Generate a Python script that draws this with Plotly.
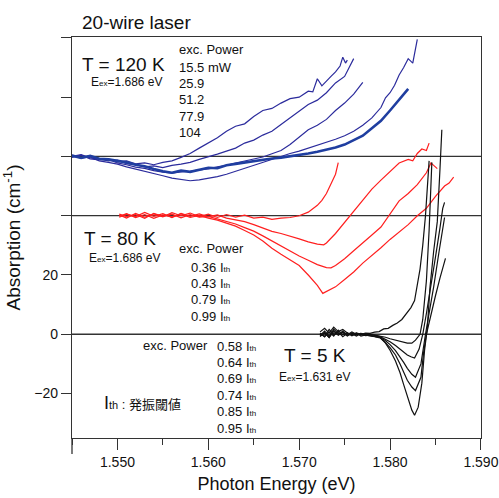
import plotly.graph_objects as go

# ---------------- data (values relative to each panel's baseline) ----------------
OFF_120K = 60
OFF_80K = 40
OFF_5K = 0

# T = 120 K (blue), five excitation powers
b1_x = [1.545,1.546,1.547,1.548,1.549,1.550,1.551,1.552,1.553,1.554,1.555,1.556,1.557,1.558,1.559,1.560,1.561,1.562,1.563,1.564,
        1.565,1.566,1.567,1.568,1.569,1.570,1.571,1.5715,1.572,1.5725,1.573,1.5735,1.574,1.5745,1.5748,1.5751,1.5753]
b1_y = [0.5,-0.5,0.3,-1.0,-0.8,-1.8,-1.5,-2.5,-2.2,-2.8,-2.0,-1.5,-0.3,1.0,2.8,4.5,6.3,8.5,10.2,11.0,
        13.5,15.5,16.2,18.0,19.5,20.0,22.0,21.8,26.2,23.8,25.5,27.0,28.5,30.5,33.5,31.5,32.5]

b2_x = [1.545,1.546,1.547,1.548,1.549,1.550,1.551,1.552,1.553,1.554,1.555,1.556,1.557,1.558,1.559,1.560,1.561,1.562,1.563,1.564,
        1.565,1.566,1.567,1.568,1.569,1.570,1.571,1.572,1.573,1.574,1.575,1.5755,1.576]
b2_y = [0.0,0.6,-0.5,-0.8,-1.5,-1.2,-2.4,-2.8,-3.5,-3.2,-3.8,-3.0,-2.6,-2.0,-1.0,-0.2,0.8,1.8,2.8,4.5,
        5.5,7.2,8.5,10.8,13.0,15.2,17.5,19.0,21.5,24.8,27.0,30.0,33.0]

b3_x = [1.545,1.546,1.547,1.548,1.549,1.550,1.551,1.552,1.553,1.554,1.555,1.556,1.557,1.558,1.559,1.560,1.561,1.562,1.563,1.564,
        1.565,1.566,1.567,1.568,1.569,1.570,1.571,1.572,1.573,1.574,1.575,1.576,1.577]
b3_y = [-0.3,0.4,-0.8,-1.2,-1.0,-2.2,-2.8,-3.6,-4.0,-4.8,-5.3,-5.6,-5.2,-5.0,-4.5,-4.2,-3.5,-3.0,-2.2,-1.6,
        -0.8,-0.2,0.9,2.0,4.0,6.5,9.0,10.5,12.5,15.5,18.0,21.0,25.0]

b4_x = [1.545,1.546,1.547,1.548,1.549,1.550,1.551,1.552,1.553,1.554,1.555,1.556,1.557,1.558,1.559,1.560,1.561,1.562,1.563,1.564,
        1.565,1.566,1.567,1.568,1.569,1.570,1.571,1.572,1.573,1.574,1.575,1.576,1.577,1.578,1.579,
        1.5795,1.580,1.5805,1.581,1.5815,1.582,1.5825,1.583]
b4_y = [0.2,-0.6,-0.2,-1.5,-2.0,-2.6,-3.5,-4.2,-5.0,-5.8,-6.5,-7.3,-7.8,-8.2,-7.9,-7.4,-6.8,-6.0,-5.0,-4.0,
        -3.0,-2.0,-0.8,0.2,1.0,1.8,2.8,3.6,4.6,5.8,7.0,8.5,10.5,13.0,16.5,
        19.8,21.5,24.0,27.5,30.0,33.0,31.5,39.5]

b5_x = [1.545,1.546,1.547,1.548,1.549,1.550,1.551,1.552,1.553,1.554,1.555,1.556,1.557,1.558,1.559,1.560,1.561,1.562,1.563,1.564,
        1.565,1.566,1.567,1.568,1.569,1.570,1.571,1.572,1.573,1.574,1.575,1.576,1.577,1.578,1.579,1.580,1.581,1.582]
b5_y = [0.3,-0.5,0.2,-0.8,-1.0,-1.5,-2.0,-2.8,-3.3,-4.2,-5.0,-5.5,-4.8,-5.2,-4.5,-3.8,-4.0,-3.0,-2.5,-2.0,
        -1.6,-1.2,-0.7,-0.4,0.0,0.5,1.0,1.6,2.2,3.0,4.0,5.5,7.0,9.5,12.0,15.5,19.0,22.8]

# T = 80 K (red), four excitation powers
r1_x = [1.5502,1.551,1.552,1.553,1.554,1.555,1.556,1.557,1.558,1.559,1.560,1.561,1.562,1.563,1.564,1.565,1.566,1.567,1.568,1.569,
        1.570,1.571,1.572,1.5725,1.573,1.5735,1.574,1.5743]
r1_y = [0.3,-0.8,0.8,-0.5,0.6,-0.4,1.0,0.0,0.9,-0.3,0.5,-0.6,0.4,-0.5,0.2,-0.8,-0.5,-1.2,-0.8,-0.6,
        0.0,1.2,3.5,5.2,7.5,10.5,14.0,17.9]

r2_x = [1.5502,1.551,1.552,1.553,1.554,1.555,1.556,1.557,1.558,1.559,1.560,1.561,1.562,1.563,1.564,1.565,1.566,1.567,1.568,1.569,
        1.570,1.571,1.572,1.5727,1.573,1.574,1.575,1.576,1.577,1.578,1.579,1.580,1.581,1.582,1.5825,1.583,1.5835,1.584,1.5843]
r2_y = [-0.5,0.5,-0.3,1.1,-0.2,0.7,-0.6,0.8,-0.2,0.6,-0.4,0.3,-0.8,-1.5,-2.0,-3.0,-4.2,-5.3,-6.0,-6.8,
        -7.8,-8.8,-9.6,-9.8,-9.2,-6.0,-2.2,1.5,5.5,9.0,12.0,15.0,17.8,19.0,18.5,21.0,22.5,22.0,24.5]

r3_x = [1.5502,1.551,1.552,1.553,1.554,1.555,1.556,1.557,1.558,1.559,1.560,1.561,1.562,1.563,1.564,1.565,1.566,1.567,1.568,1.569,
        1.570,1.571,1.572,1.573,1.5735,1.574,1.575,1.576,1.577,1.578,1.579,1.580,1.581,1.582,1.583,1.584,1.5845,1.5848,1.5852]
r3_y = [0.6,-0.3,0.4,-0.9,0.8,-0.2,0.5,-0.7,0.4,-0.5,-0.2,-1.0,-1.8,-2.8,-4.0,-5.2,-6.8,-8.5,-10.2,-12.0,
        -13.6,-15.0,-16.5,-17.5,-17.6,-16.8,-14.5,-11.8,-9.0,-6.5,-3.8,0.5,5.0,7.5,10.5,14.5,17.8,17.0,15.9]

r4_x = [1.5502,1.551,1.552,1.553,1.554,1.555,1.556,1.557,1.558,1.559,1.560,1.561,1.562,1.563,1.564,1.565,1.566,1.567,1.568,1.569,
        1.570,1.571,1.572,1.5726,1.573,1.574,1.575,1.576,1.577,1.578,1.579,1.580,1.581,1.582,1.583,1.584,1.585,1.586,1.5865,1.587]
r4_y = [-0.2,0.7,-0.6,0.4,-0.9,0.3,-0.4,0.6,-0.6,0.1,-0.8,-1.5,-2.5,-3.5,-5.0,-6.5,-8.5,-11.0,-13.0,-15.0,
        -16.8,-20.0,-23.5,-26.2,-25.5,-24.0,-21.5,-19.0,-16.0,-13.5,-10.8,-8.0,-5.5,-3.0,0.0,2.5,6.5,10.0,11.0,13.0]

# T = 5 K (black), six excitation powers
k_start = [1.5723,1.5728,1.5733,1.5738,1.5743,1.5748,1.5753,1.5758,1.5763,1.5768,1.5773,1.5778,1.5783]

k1_x = k_start + [1.5788,1.5793,1.5798,1.5803,1.5808,1.5813,1.5818,1.5823,1.5827,1.5830,1.5833,1.5836,1.5839,1.5843]
k1_y = [0.8,2.0,0.4,2.4,0.9,1.6,0.4,-0.2,0.5,0.0,0.4,0.3,0.7,
        0.9,1.8,2.0,3.0,3.8,5.0,7.0,9.0,11.4,17.0,22.0,30.0,40.0,58.5]

k2_x = k_start + [1.5789,1.5795,1.5800,1.5806,1.5811,1.5815,1.5819,1.5824,1.5828,1.5833,1.5836,1.5840,1.5843,1.5846]
k2_y = [-0.4,1.1,-0.6,1.3,-0.3,0.6,-0.6,0.4,-0.2,0.2,-0.4,0.0,-0.3,
        -0.6,-1.0,-1.5,-2.0,-2.5,-2.8,-3.0,-3.0,-2.0,0.0,5.0,18.0,35.0,58.0]

k3_x = k_start + [1.5789,1.5795,1.5800,1.5806,1.5811,1.5815,1.5819,1.5823,1.5827,1.5832,1.5836,1.5840,1.5845,1.5850,1.5855,1.5858,1.5860]
k3_y = [0.4,-0.9,0.8,-0.6,1.4,-0.2,0.5,-0.5,0.2,-0.3,0.2,-0.2,-0.4,
        -0.8,-1.6,-2.5,-3.8,-5.0,-6.0,-7.0,-7.6,-8.0,-5.0,0.0,7.0,16.0,26.0,36.0,42.5,44.5]

k4_x = k_start + [1.5789,1.5795,1.5800,1.5806,1.5811,1.5815,1.5819,1.5824,1.5828,1.5834,1.5839,1.5843,1.5848,1.5854,1.5860]
k4_y = [-0.8,0.6,-1.1,0.9,-0.2,1.1,-0.4,0.2,-0.6,0.3,-0.3,-0.5,-0.7,
        -1.0,-2.2,-3.5,-5.5,-7.5,-9.5,-11.5,-13.5,-14.5,-10.0,0.0,7.0,16.0,28.0,39.4]

k5_x = k_start + [1.5789,1.5795,1.5800,1.5806,1.5811,1.5815,1.5819,1.5824,1.5828,1.5834,1.5837,1.5840,1.5845,1.5850,1.5855,1.5861]
k5_y = [0.2,-0.7,1.6,0.0,0.8,-0.8,0.3,-0.3,0.4,-0.6,-0.2,-0.4,-0.8,
        -1.2,-2.8,-4.5,-7.0,-10.0,-12.8,-15.5,-17.8,-19.0,-14.5,-6.0,0.0,7.0,13.0,19.0,25.6]

k6_x = k_start + [1.5789,1.5795,1.5800,1.5806,1.5811,1.5815,1.5819,1.5824,1.5827,1.5831,1.5835,1.5838,1.5841,1.5844,1.5848,1.5852,1.5855,1.5857]
k6_y = [-0.6,0.4,-1.1,1.8,0.2,0.7,-0.2,0.8,0.0,0.3,-0.5,-0.3,-0.7,
        -1.0,-3.0,-5.4,-9.0,-13.0,-17.0,-21.0,-25.6,-27.3,-24.6,-16.5,-5.4,2.0,16.0,28.0,38.0,56.0,69.0]

# labels
powers_120K = ["15.5 mW", "25.9", "51.2", "77.9", "104"]
powers_80K = ["0.36", "0.43", "0.79", "0.99"]
powers_5K = ["0.58", "0.64", "0.69", "0.74", "0.85", "0.95"]
y_tickvals = [-20, 0, 20]
y_minor_step = 20

# ---------------- styles ----------------
NAVY = "#2b2b9c"
BLUE_THICK = "#1f3ea0"
RED = "#ff1f1f"
BLACK = "#111111"
FRAME = "#333333"
FONT = "Liberation Sans, Arial, Noto Sans CJK JP, sans-serif"

fig = go.Figure()

def add(x, y, off, color, width):
    fig.add_trace(go.Scatter(x=x, y=[v + off for v in y], mode="lines",
                             line=dict(color=color, width=width),
                             showlegend=False, hoverinfo="skip"))

for xs, ys in [(b1_x, b1_y), (b2_x, b2_y), (b3_x, b3_y), (b4_x, b4_y)]:
    add(xs, ys, OFF_120K, NAVY, 1.2)
add(b5_x, b5_y, OFF_120K, BLUE_THICK, 2.6)
for xs, ys in [(r1_x, r1_y), (r2_x, r2_y), (r3_x, r3_y), (r4_x, r4_y)]:
    add(xs, ys, OFF_80K, RED, 1.2)
for xs, ys in [(k1_x, k1_y), (k2_x, k2_y), (k3_x, k3_y), (k4_x, k4_y), (k5_x, k5_y), (k6_x, k6_y)]:
    add(xs, ys, OFF_5K, BLACK, 1.2)

# plot-area geometry in pixels (for placing text)
W, H = 499, 498
L, R, T, B = 72, 18, 37, 60
PW, PH = W - L - R, H - T - B

def ann(text, px, py, size, xanchor="left"):
    return dict(text=text, x=(px - L) / PW, y=(H - B - py) / PH, xref="paper", yref="paper",
                xanchor=xanchor, yanchor="middle", showarrow=False, borderpad=0,
                font=dict(size=size, color="#111111", family=FONT))

def eex(val):
    return "E<span style='font-size:8px'>ex</span>=" + val + " eV"

def ith(val):
    return val + " I<span style='font-size:8px'>th</span>"

anns = []
anns.append(ann("T = 120 K", 81, 64, 19))
anns.append(ann(eex("1.686"), 90, 82, 12))
anns.append(ann("exc. Power", 178, 49, 13))
for i, p in enumerate(powers_120K):
    anns.append(ann(p, 178, 67 + i * 16.4, 13))

anns.append(ann("T = 80 K", 83, 238, 19))
anns.append(ann(eex("1.686"), 88, 258, 12))
anns.append(ann("exc. Power", 178, 249, 13))
for i, p in enumerate(powers_80K):
    anns.append(ann(ith(p), 190, 267 + i * 16.4, 13))

anns.append(ann("T = 5 K", 283, 355, 19))
anns.append(ann(eex("1.631"), 278, 377, 12))
anns.append(ann("exc. Power", 142, 345, 13))
for i, p in enumerate(powers_5K):
    anns.append(ann(ith(p), 216, 346 + i * 16.4, 13))

anns.append(ann("<span style='font-size:18px'>I</span><span style='font-size:11px'>th</span> : 発振閾値", 103, 403, 13))

shapes = []
for off in [OFF_120K, OFF_80K, OFF_5K]:
    shapes.append(dict(type="line", xref="paper", x0=0, x1=1, yref="y", y0=off, y1=off,
                       line=dict(color=FRAME, width=1.3), layer="below"))
# small extension of the left axis below the bottom axis
shapes.append(dict(type="line", xref="paper", x0=0, x1=0, yref="paper", y0=0, y1=-16 / PH,
                   line=dict(color=FRAME, width=1.3)))

fig.update_layout(
    width=W, height=H,
    margin=dict(l=L, r=R, t=T, b=B),
    paper_bgcolor="white", plot_bgcolor="white",
    font=dict(family=FONT, color="#111111"),
    title=dict(text="20-wire laser", x=82 / W, xref="container", xanchor="left",
               y=1 - 22 / H, yref="container", yanchor="middle",
               font=dict(size=19, family=FONT, color="#111111")),
    annotations=anns,
    shapes=shapes,
    showlegend=False,
)

fig.update_xaxes(range=[1.545, 1.59001], showgrid=False, zeroline=False, automargin=False,
                 showline=True, linecolor=FRAME, linewidth=1.3, mirror=True,
                 ticks="outside", ticklen=11, tickwidth=1.2, tickcolor=FRAME,
                 tick0=1.55, dtick=0.01, tickformat=".3f",
                 tickfont=dict(size=14, family=FONT, color="#111111"),
                 minor=dict(dtick=0.005, tick0=1.545, ticks="outside", ticklen=6, tickwidth=1.2, tickcolor=FRAME),
                 title=dict(text="Photon Energy (eV)", standoff=8, font=dict(size=18, family=FONT, color="#111111")))

fig.update_yaxes(range=[-35, 100.3], showgrid=False, zeroline=False, automargin=False,
                 showline=True, linecolor=FRAME, linewidth=1.3, mirror=True,
                 ticks="outside", ticklen=10, tickwidth=1.2, tickcolor=FRAME,
                 tickmode="array", tickvals=y_tickvals,
                 minor=dict(tickmode="linear", tick0=0, dtick=y_minor_step, ticks="outside",
                            ticklen=10, tickwidth=1.2, tickcolor=FRAME),
                 tickfont=dict(size=14, family=FONT, color="#111111"),
                 title=dict(text="Absorption (cm<sup>-1</sup>)", standoff=8, font=dict(size=19, family=FONT, color="#111111")))

fig.write_html("out.html")
